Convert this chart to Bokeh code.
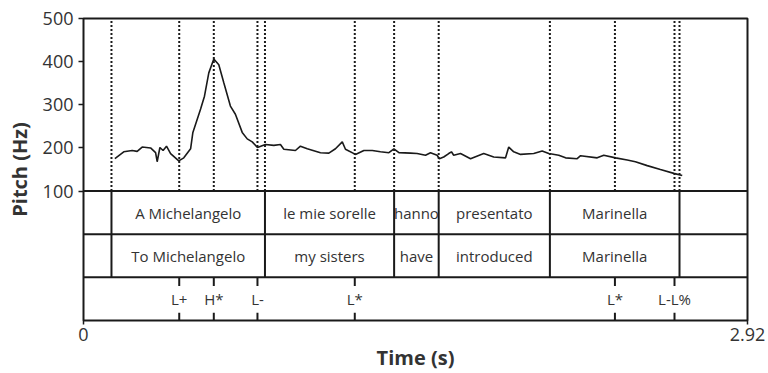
from bokeh.plotting import figure
from bokeh.models import Range1d, FixedTicker, Span
from bokeh.core.properties import value
from bokeh.embed import file_html
from bokeh.resources import INLINE

# ---------------- data ----------------
TIME_END = 2.92

pitch_time = [0.138, 0.177, 0.214, 0.236, 0.258, 0.295, 0.317, 0.324, 0.336, 0.350,
              0.365, 0.383, 0.419, 0.441, 0.471, 0.481, 0.515, 0.532, 0.551, 0.573,
              0.595, 0.617, 0.646, 0.668, 0.698, 0.720, 0.742, 0.765, 0.800, 0.837,
              0.866, 0.881, 0.932, 0.954, 0.984, 1.042, 1.079, 1.108, 1.138, 1.152,
              1.196, 1.233, 1.270, 1.306, 1.343, 1.365, 1.387, 1.438, 1.467, 1.504,
              1.526, 1.555, 1.565, 1.584, 1.606, 1.618, 1.628, 1.658, 1.702, 1.760,
              1.804, 1.856, 1.870, 1.892, 1.922, 1.980, 2.017, 2.046, 2.090, 2.120,
              2.171, 2.186, 2.259, 2.288, 2.340, 2.391, 2.427, 2.479, 2.537, 2.596,
              2.633]
pitch_hz = [175, 191, 194, 192, 202, 200, 189, 168, 201, 194,
            204, 187, 170, 177, 198, 236, 290, 320, 374, 406,
            393, 351, 297, 278, 236, 221, 214, 201, 208, 206,
            208, 197, 194, 204, 198, 189, 188, 198, 214, 197,
            185, 194, 194, 191, 189, 198, 189, 188, 187, 183,
            189, 183, 175, 179, 187, 191, 183, 187, 175, 187,
            179, 177, 202, 191, 185, 187, 193, 187, 183, 177,
            175, 182, 177, 183, 177, 172, 168, 159, 150, 141,
            136]

# dotted guide lines in the pitch panel
guide_times = [0.123, 0.421, 0.573, 0.765, 0.798, 1.193, 1.366, 1.562, 2.051, 2.337, 2.599, 2.621]

# word tier boundaries and labels
word_bounds = [0.123, 0.798, 1.366, 1.562, 2.051, 2.621]
words_it = ["A Michelangelo", "le mie sorelle", "hanno", "presentato", "Marinella"]
words_en = ["To Michelangelo", "my sisters", "have", "introduced", "Marinella"]

# tone tier
tone_times = [0.421, 0.573, 0.765, 1.193, 2.337, 2.599]
tone_labels = ["L+", "H*", "L-", "L*", "L*", "L-L%"]

y_ticks = [100, 200, 300, 400, 500]
x_ticks = [0, TIME_END]
x_tick_labels = ["0", "2.92"]

# ---------------- layout constants ----------------
ROW_TOP, ROW_MID, ROW_LOW, ROW_BOT = 100, 0, -100, -200
FONT = "Open Sans"
INK = "#1a1a1a"
TXT = "#333333"

p = figure(width=768, height=373, output_backend="svg", toolbar_location=None,
           x_range=Range1d(0, TIME_END), y_range=Range1d(ROW_BOT, 500),
           min_border_left=83, min_border_right=21, min_border_top=18, min_border_bottom=49)
p.background_fill_color = "white"
p.border_fill_color = "white"
p.outline_line_color = INK
p.outline_line_width = 2
p.xgrid.visible = False
p.ygrid.visible = False

# y axis
p.yaxis.ticker = FixedTicker(ticks=y_ticks)
p.yaxis.axis_line_color = None
p.yaxis.major_tick_out = 5
p.yaxis.major_tick_in = 0
p.yaxis.minor_tick_line_color = None
p.yaxis.major_tick_line_color = INK
p.yaxis.major_tick_line_width = 1.5
p.yaxis.major_label_standoff = 5
p.yaxis.major_label_text_font = FONT
p.yaxis.major_label_text_font_size = "18px"
p.yaxis.major_label_text_color = TXT
p.yaxis.axis_label = "Pitch (Hz)"
p.yaxis.axis_label_text_font = FONT
p.yaxis.axis_label_text_font_size = "20px"
p.yaxis.axis_label_text_font_style = "bold"
p.yaxis.axis_label_text_color = TXT
p.yaxis.axis_label_standoff = 7

# x axis
p.xaxis.ticker = FixedTicker(ticks=x_ticks)
p.xaxis.major_label_overrides = dict(zip(x_ticks, x_tick_labels))
p.xaxis.axis_line_color = None
p.xaxis.major_tick_out = 4
p.xaxis.major_tick_in = 0
p.xaxis.minor_tick_line_color = None
p.xaxis.major_tick_line_color = INK
p.xaxis.major_tick_line_width = 1.5
p.xaxis.major_label_standoff = 3
p.xaxis.major_label_text_font = FONT
p.xaxis.major_label_text_font_size = "18px"
p.xaxis.major_label_text_color = TXT
p.xaxis.axis_label = "Time (s)"
p.xaxis.axis_label_text_font = FONT
p.xaxis.axis_label_text_font_size = "20px"
p.xaxis.axis_label_text_font_style = "bold"
p.xaxis.axis_label_text_color = TXT
p.xaxis.axis_label_standoff = 0

# horizontal tier lines
for yy in (ROW_TOP, ROW_MID, ROW_LOW):
    p.add_layout(Span(location=yy, dimension="width", line_color=INK, line_width=2))

# dotted guides in pitch panel
p.segment(x0=guide_times, y0=[ROW_TOP] * len(guide_times), x1=guide_times,
          y1=[500] * len(guide_times), line_color=INK, line_width=2, line_dash="2 2")

# word boundaries
p.segment(x0=word_bounds, y0=[ROW_LOW] * len(word_bounds), x1=word_bounds,
          y1=[ROW_TOP] * len(word_bounds), line_color=INK, line_width=2)

# word labels
mids = [(a + b) / 2 for a, b in zip(word_bounds[:-1], word_bounds[1:])]
p.text(x=mids, y=[(ROW_TOP + ROW_MID) / 2] * len(mids), text=words_it,
       text_align="center", text_baseline="middle", text_font=value(FONT),
       text_font_size="15px", text_color=TXT)
p.text(x=mids, y=[(ROW_MID + ROW_LOW) / 2] * len(mids), text=words_en,
       text_align="center", text_baseline="middle", text_font=value(FONT),
       text_font_size="15px", text_color=TXT)

# tone tier ticks and labels
n = len(tone_times)
p.segment(x0=tone_times, y0=[ROW_LOW] * n, x1=tone_times, y1=[ROW_LOW - 20] * n,
          line_color=INK, line_width=2)
p.segment(x0=tone_times, y0=[ROW_BOT] * n, x1=tone_times, y1=[ROW_BOT + 18] * n,
          line_color=INK, line_width=2)
p.text(x=tone_times, y=[(ROW_LOW + ROW_BOT) / 2] * n, text=tone_labels,
       text_align="center", text_baseline="middle", text_font=value(FONT),
       text_font_size="15px", text_color=TXT)

# pitch contour
p.line(x=pitch_time, y=pitch_hz, line_color=INK, line_width=1.6)

open("out.html", "w").write(file_html(p, INLINE))
